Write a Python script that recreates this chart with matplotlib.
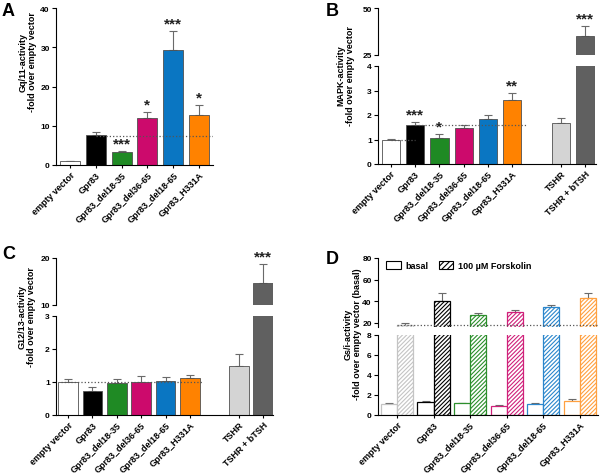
import matplotlib
matplotlib.use("Agg")
import matplotlib.pyplot as plt
import numpy as np
from matplotlib.patches import Patch

plt.rcParams['font.family'] = ['Liberation Sans', 'DejaVu Sans']
plt.rcParams['font.weight'] = 'bold'
plt.rcParams['font.size'] = 6
plt.rcParams['axes.linewidth'] = 0.8
plt.rcParams['hatch.linewidth'] = 0.8

# ---- data ----
labels6 = ["empty vector", "Gpr83", "Gpr83_del18-35", "Gpr83_del36-65",
           "Gpr83_del18-65", "Gpr83_H331A"]
labels8 = labels6 + ["TSHR", "TSHR + bTSH"]
pos6 = [0, 1, 2, 3, 4, 5]
pos8 = [0, 1, 2, 3, 4, 5, 7, 8]
colors8 = ["white", "black", "#1f8a24", "#cc0a6c", "#0a76c2", "#ff8200",
           "#d4d4d4", "#606060"]
colors_d = ["#c4c4c4", "black", "#2c8f2c", "#d0207a", "#2a86cc", "#ffa040"]

a_vals = [1.0, 7.6, 3.3, 11.9, 29.4, 12.8]
a_err = [0.1, 0.8, 0.3, 1.5, 4.8, 2.4]
a_sig = ["", "", "***", "*", "***", "*"]

b_vals = [1.0, 1.58, 1.08, 1.47, 1.83, 2.62, 1.67, 35.2]
b_err = [0.03, 0.12, 0.13, 0.13, 0.18, 0.27, 0.22, 5.3]
b_sig = ["", "***", "*", "", "", "**", "", "***"]

c_vals = [1.0, 0.72, 0.97, 1.0, 1.02, 1.12, 1.48, 14.6]
c_err = [0.1, 0.14, 0.13, 0.18, 0.13, 0.1, 0.38, 4.1]
c_sig = ["", "", "", "", "", "", "", "***"]

d_basal = [1.1, 1.3, 1.2, 0.92, 1.15, 1.45]
d_basal_err = [0.08, 0.1, 0.05, 0.05, 0.05, 0.2]
d_forsk = [18.2, 40.6, 27.4, 29.8, 34.5, 42.8]
d_forsk_err = [1.8, 6.8, 1.8, 2.2, 2.1, 4.6]

ERR = dict(fmt='none', ecolor='#6a6a6a', elinewidth=0.8, capsize=3, capthick=0.8, zorder=1)


def px_axes(l, r, t, b):
    return fig.add_axes([l / 600, 1 - b / 477, (r - l) / 600, (b - t) / 477])


def style(ax, bottom=True):
    ax.spines['top'].set_visible(False)
    ax.spines['right'].set_visible(False)
    ax.tick_params(axis='y', direction='out', length=3, width=0.8, pad=1.5, labelsize=6)
    ax.tick_params(axis='x', direction='out', length=2, width=0.8, pad=1.5, labelsize=6.5)
    if not bottom:
        ax.spines['bottom'].set_visible(False)
        ax.tick_params(axis='x', bottom=False, labelbottom=False)


def bars(ax, x, vals, errs, colors, width):
    ax.errorbar(x, vals, yerr=[np.zeros(len(errs)), errs], **ERR)
    ax.bar(x, vals, width, color=colors, edgecolor='#505050', linewidth=0.6, zorder=2)


def stars(ax, x, vals, errs, sig, pad):
    for xi, v, e, s in zip(x, vals, errs, sig):
        if s:
            ax.text(xi, v + e + pad, s, ha='center', va='bottom', fontsize=11,
                    clip_on=False, color='#222222')


def xlabels(ax, x, labels):
    ax.set_xticks(x)
    ax.set_xticklabels(labels, rotation=45, ha='right', rotation_mode='anchor')


fig = plt.figure(figsize=(6, 4.77), dpi=100)

# ---- A ----
ax = px_axes(56, 213, 9, 166)
bars(ax, pos6, a_vals, a_err, colors8[:6], 0.78)
ax.hlines(7.5, 1, 5.6, colors='#555555', linestyles=':', linewidth=0.9, zorder=3)
stars(ax, pos6, a_vals, a_err, a_sig, 0.2)
ax.set_xlim(-0.54, 5.54)
ax.set_ylim(0, 40)
ax.set_yticks([0, 10, 20, 30, 40])
xlabels(ax, pos6, labels6)
style(ax)
fig.text(27.5 / 600, 1 - 62 / 477, "Gq/11-activity\n-fold over empty vector",
         rotation=90, ha='center', va='center', fontsize=6.5, linespacing=1.1)
fig.text(2 / 600, 1 - 3 / 477, "A", fontsize=13, ha='left', va='top')

# ---- B ----
bt = px_axes(378, 596, 9, 56)
bb = px_axes(378, 596, 67, 165)
for a in (bt, bb):
    bars(a, pos8, b_vals, b_err, colors8, 0.75)
    a.set_xlim(-0.53, 8.45)
bt.set_ylim(25, 50)
bt.set_yticks([25, 50])
bb.set_ylim(0, 4)
bb.set_yticks([0, 1, 2, 3, 4])
bb.hlines(1.58, 1, 5.6, colors='#555555', linestyles=':', linewidth=0.9, zorder=3)
bb.hlines(1.0, 0, 1, colors='#555555', linestyles=':', linewidth=0.9, zorder=3)
stars(bb, pos8[:6], b_vals[:6], b_err[:6], b_sig[:6], 0.03)
stars(bt, pos8[7:], b_vals[7:], b_err[7:], b_sig[7:], 0.3)
xlabels(bb, pos8, labels8)
style(bt, bottom=False)
style(bb)
fig.text(346 / 600, 1 - 76 / 477, "MAPK-activity\n-fold over empty vector",
         rotation=90, ha='center', va='center', fontsize=6.5, linespacing=1.1)
fig.text(326 / 600, 1 - 3 / 477, "B", fontsize=13, ha='left', va='top')

# ---- C ----
ct = px_axes(56, 273, 259, 306)
cb = px_axes(56, 273, 317, 416)
for a in (ct, cb):
    bars(a, pos8, c_vals, c_err, colors8, 0.8)
    a.set_xlim(-0.49, 8.4)
ct.set_ylim(10, 20)
ct.set_yticks([10, 20])
cb.set_ylim(0, 3)
cb.set_yticks([0, 1, 2, 3])
cb.hlines(1.0, -0.3, 5.5, colors='#555555', linestyles=':', linewidth=0.9, zorder=3)
stars(ct, pos8[7:], c_vals[7:], c_err[7:], c_sig[7:], 0.1)
xlabels(cb, pos8, labels8)
style(ct, bottom=False)
style(cb)
fig.text(27 / 600, 1 - 317 / 477, "G12/13-activity\n-fold over empty vector",
         rotation=90, ha='center', va='center', fontsize=6.5, linespacing=1.1)
fig.text(2 / 600, 1 - 246 / 477, "C", fontsize=13, ha='left', va='top')

# ---- D ----
dt = px_axes(378, 598, 259, 328)
db = px_axes(378, 598, 336, 416)
w = 0.44
for a in (dt, db):
    for i in range(6):
        a.errorbar(pos6[i] - w / 2, d_basal[i], yerr=[[0], [d_basal_err[i]]], **ERR)
        a.errorbar(pos6[i] + w / 2, d_forsk[i], yerr=[[0], [d_forsk_err[i]]], **ERR)
        a.bar(pos6[i] - w / 2, d_basal[i], w, color='white', edgecolor=colors_d[i],
              linewidth=0.9, zorder=2)
        a.bar(pos6[i] + w / 2, d_forsk[i], w, color='white', edgecolor=colors_d[i],
              linewidth=0.9, hatch='////////', zorder=2)
    a.set_xlim(-0.52, 5.5)
dt.set_ylim(16.3, 80)
dt.set_yticks([20, 40, 60, 80])
db.set_ylim(0, 8)
db.set_yticks([0, 2, 4, 6, 8])
dt.hlines(18.2, 0, 5.5, colors='#555555', linestyles=':', linewidth=0.9, zorder=3)
xlabels(db, pos6, labels6)
style(dt, bottom=False)
style(db)
dt.legend(handles=[Patch(facecolor='white', edgecolor='black', linewidth=0.8, label='basal'),
                   Patch(facecolor='white', edgecolor='black', linewidth=0.8, hatch='//////',
                         label='100 µM Forskolin')],
          loc='upper left', bbox_to_anchor=(0.0, 1.08), ncol=2, frameon=False, fontsize=6.5,
          handlelength=1.6, handleheight=1.1, columnspacing=1.2, handletextpad=0.5)
fig.text(353 / 600, 1 - 334 / 477, "Gs/i-activity\n-fold over empty vector (basal)",
         rotation=90, ha='center', va='center', fontsize=6.5, linespacing=1.1)
fig.text(326 / 600, 1 - 251 / 477, "D", fontsize=13, ha='left', va='top')

fig.savefig("out.png", dpi=100)
